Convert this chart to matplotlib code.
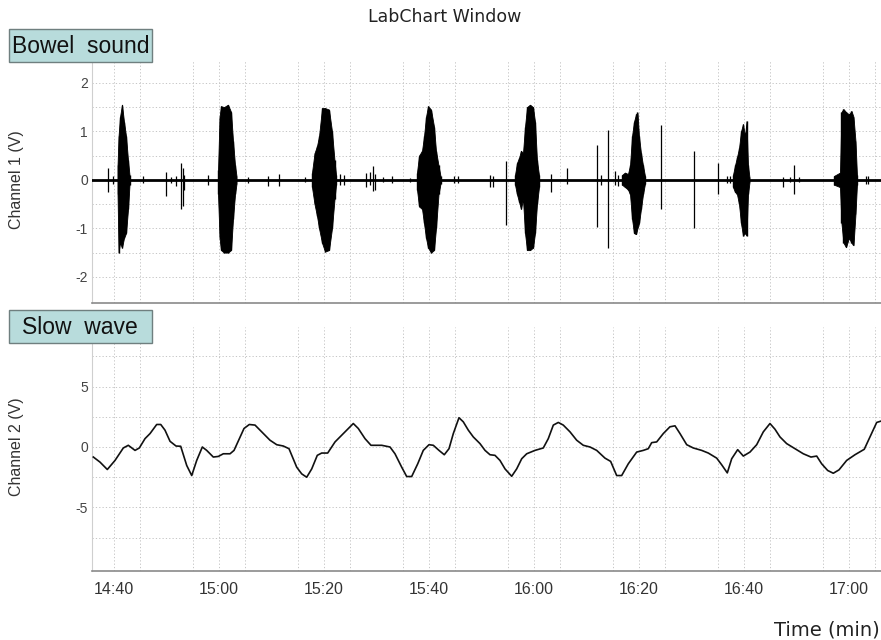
import numpy as np
import matplotlib
matplotlib.use("Agg")
import matplotlib.pyplot as plt
from matplotlib.patches import Rectangle

plt.rcParams['font.family'] = ['Liberation Sans', 'DejaVu Sans']
plt.rcParams['axes.unicode_minus'] = False

# time axis in minutes after 14:00
tick_minutes = [40, 60, 80, 100, 120, 140, 160, 180]
tick_labels = ['14:40', '15:00', '15:20', '15:40', '16:00', '16:20', '16:40', '17:00']
t_range = (35.8, 186.1)

# ---- channel 1: bowel sound bursts (envelopes, V) ----
burst_t = [
    [40.67, 40.86, 41.14, 41.52, 41.90, 42.29, 42.67, 42.95],
    [59.81, 60.10, 60.38, 60.95, 61.71, 62.29, 62.67, 63.05, 63.33],
    [77.71, 78.19, 78.67, 79.05, 79.62, 80.19, 80.95, 81.52, 82.00, 82.29],
    [97.71, 98.10, 98.67, 99.05, 99.43, 99.81, 100.38, 100.95, 101.33, 101.81, 102.19],
    [116.38, 116.76, 117.14, 117.52, 117.90, 118.29, 118.67, 119.24, 119.81, 120.19, 120.57, 120.95],
    [136.76, 137.33, 137.90, 138.29, 138.67, 139.05, 139.43, 139.71, 140.00, 140.38, 140.76, 141.14],
    [157.90, 158.29, 158.67, 159.05, 159.43, 159.81, 160.19, 160.48, 160.76, 161.05],
    [177.14, 178.29, 178.57, 178.95, 179.43, 180.00, 180.48, 180.86, 181.24, 181.52],
]
burst_hi = [
    [0.3, 0.9, 1.3, 1.55, 1.2, 0.9, 0.4, 0.1],
    [0.2, 1.3, 1.52, 1.5, 1.55, 1.4, 0.8, 0.3, 0.08],
    [0.15, 0.55, 0.7, 0.9, 1.48, 1.48, 1.45, 1.0, 0.4, 0.1],
    [0.15, 0.5, 0.6, 0.9, 1.3, 1.52, 1.45, 1.1, 0.6, 0.3, 0.08],
    [0.1, 0.35, 0.45, 0.6, 0.55, 1.1, 1.5, 1.55, 1.5, 1.2, 0.4, 0.1],
    [0.1, 0.15, 0.12, 0.3, 0.9, 1.2, 1.35, 1.39, 0.9, 0.55, 0.3, 0.08],
    [0.1, 0.3, 0.47, 0.65, 1.0, 1.15, 0.9, 1.21, 0.3, 0.05],
    [0.08, 0.15, 1.4, 1.46, 1.4, 1.35, 1.42, 1.3, 0.8, 0.1],
]
burst_lo = [
    [-0.3, -1.5, -1.3, -1.4, -1.2, -1.1, -0.6, -0.1],
    [-0.3, -1.2, -1.45, -1.5, -1.5, -1.45, -0.8, -0.3, -0.08],
    [-0.15, -0.5, -0.75, -1.0, -1.3, -1.48, -1.45, -1.0, -0.4, -0.1],
    [-0.2, -0.55, -0.6, -0.9, -1.2, -1.4, -1.5, -1.45, -1.0, -0.3, -0.08],
    [-0.1, -0.3, -0.45, -0.6, -0.4, -1.1, -1.45, -1.45, -1.4, -1.1, -0.5, -0.15],
    [-0.1, -0.15, -0.2, -0.3, -0.8, -1.1, -1.12, -1.0, -0.9, -0.6, -0.3, -0.08],
    [-0.15, -0.25, -0.3, -0.5, -0.9, -1.15, -1.1, -1.15, -0.3, -0.05],
    [-0.1, -0.15, -0.9, -1.3, -1.39, -1.2, -1.3, -1.35, -0.7, -0.1],
]

# isolated spikes on channel 1
spike_t = [38.91, 39.87, 45.58, 49.90, 50.86, 51.81, 52.80, 53.10, 53.30, 57.96,
           65.58, 69.39, 71.49, 76.38, 83.05, 83.81, 88.00, 88.76, 89.39, 89.71,
           91.18, 92.90, 96.38, 104.82, 105.58, 111.60, 112.20, 114.67, 123.24, 126.35,
           131.94, 132.76, 134.16, 135.43, 136.00, 144.19, 150.54, 155.11, 156.70, 157.30,
           167.49, 168.75, 169.58, 170.47, 183.20, 183.57]
spike_hi = [0.25, 0.08, 0.07, 0.16, 0.06, 0.08, 0.35, 0.25, 0.10, 0.10,
            0.06, 0.08, 0.12, 0.05, 0.12, 0.10, 0.14, 0.17, 0.28, 0.12,
            0.05, 0.07, 0.04, 0.07, 0.07, 0.10, 0.08, 0.39, 0.12, 0.24,
            0.72, 0.10, 1.02, 0.19, 0.10, 1.13, 0.60, 0.34, 0.07, 0.07,
            0.05, 0.05, 0.30, 0.05, 0.08, 0.08]
spike_lo = [-0.26, -0.08, -0.07, -0.33, -0.06, -0.12, -0.60, -0.55, -0.20, -0.10,
            -0.06, -0.12, -0.12, -0.05, -0.10, -0.10, -0.14, -0.10, -0.24, -0.20,
            -0.05, -0.07, -0.04, -0.07, -0.07, -0.15, -0.15, -0.93, -0.26, -0.08,
            -0.97, -0.10, -1.41, -0.10, -0.12, -0.60, -0.99, -0.30, -0.07, -0.07,
            -0.14, -0.05, -0.29, -0.05, -0.08, -0.08]

# ---- channel 2: slow wave (V) ----
slow_t = [36.06, 37.33, 38.72, 40.19, 41.77, 42.72, 44.00, 44.82, 45.90, 46.86,
          48.13, 48.90, 49.71, 50.67, 51.81, 52.70, 53.85, 54.80, 55.75, 56.82,
          57.65, 58.91, 59.87, 60.82, 62.10, 62.86, 63.87, 64.76, 65.77, 66.86,
          68.13, 69.71, 70.99, 72.25, 73.33, 74.80, 75.75, 76.70, 77.66, 78.72,
          79.56, 80.70, 82.10, 83.68, 85.58, 86.53, 87.81, 88.95, 90.99, 92.57,
          93.52, 94.80, 95.75, 96.70, 97.85, 98.91, 100.00, 100.82, 101.90, 102.91,
          103.81, 104.63, 105.71, 106.53, 107.49, 108.44, 109.71, 110.67, 111.62, 112.57,
          113.52, 114.48, 115.75, 116.70, 117.66, 118.61, 120.19, 121.77, 122.72, 123.68,
          124.63, 125.58, 126.86, 128.13, 129.39, 130.67, 131.94, 133.52, 134.60, 135.75,
          136.70, 137.96, 139.56, 140.82, 141.77, 142.42, 143.37, 144.63, 145.90, 146.86,
          147.81, 149.09, 150.34, 151.94, 153.20, 154.80, 155.75, 156.82, 157.66, 158.80,
          159.87, 161.14, 162.42, 163.68, 164.95, 165.90, 166.86, 168.13, 169.71, 171.30,
          172.76, 173.85, 174.80, 175.94, 177.01, 178.10, 179.56, 181.14, 182.91, 184.00,
          185.28, 186.10]
slow_v = [-0.83, -1.25, -1.86, -1.11, -0.08, 0.14, -0.28, -0.08, 0.69, 1.11,
          1.86, 1.86, 1.39, 0.47, 0.08, 0.06, -1.53, -2.36, -1.11, 0.00,
          -0.28, -0.83, -0.78, -0.56, -0.56, -0.28, 0.69, 1.53, 1.86, 1.81,
          1.25, 0.56, 0.19, 0.08, -0.14, -1.67, -2.22, -2.50, -1.81, -0.69,
          -0.50, -0.50, 0.42, 1.11, 1.94, 1.53, 0.69, 0.14, 0.14, 0.00,
          -0.56, -1.67, -2.44, -2.44, -1.39, -0.28, 0.19, 0.14, -0.28, -0.64,
          -0.14, 1.11, 2.42, 2.08, 1.39, 0.83, 0.28, -0.28, -0.64, -0.69,
          -1.11, -1.81, -2.42, -1.81, -0.97, -0.56, -0.28, -0.08, 0.69, 1.81,
          2.03, 1.81, 1.25, 0.56, 0.14, 0.00, -0.28, -0.92, -1.19, -2.36,
          -2.36, -1.39, -0.42, -0.28, -0.14, 0.36, 0.42, 1.11, 1.67, 1.75,
          1.11, 0.19, -0.08, -0.28, -0.50, -0.92, -1.47, -2.14, -0.97, -0.22,
          -0.75, -0.42, 0.19, 1.25, 1.94, 1.47, 0.83, 0.28, -0.14, -0.56,
          -0.83, -0.75, -1.39, -1.94, -2.17, -1.89, -1.11, -0.64, -0.19, 0.83,
          2.03, 2.14]

grid_kw = dict(color='#bdbdbd', linestyle=(0, (1.5, 2.5)), linewidth=0.6)


def style_axes(ax):
    for side in ['top', 'right']:
        ax.spines[side].set_visible(False)
    ax.spines['left'].set_color('#cfcfcf')
    ax.spines['bottom'].set_color('#8a8a8a')
    ax.spines['bottom'].set_linewidth(1.2)
    ax.set_xlim(*t_range)
    ax.set_xticks(tick_minutes)
    ax.set_xticks(np.arange(45, 186, 10), minor=True)
    ax.tick_params(which='both', length=0, colors='#333333')
    ax.tick_params(axis='y', labelsize=10, pad=3, labelcolor='#444444')
    ax.grid(True, which='both', **grid_kw)
    ax.set_axisbelow(True)


fig = plt.figure(figsize=(8.81, 6.40), dpi=100)

ax1 = fig.add_axes([0.1044, 0.5266, 0.8956, 0.378])
ax2 = fig.add_axes([0.1044, 0.1078, 0.8956, 0.3813])

# channel 1
style_axes(ax1)
ax1.set_ylim(-2.54, 2.45)
ax1.set_yticks([-2, -1, 0, 1, 2])
ax1.set_yticks([-1.5, -0.5, 0.5, 1.5], minor=True)
ax1.set_xticklabels([])
ax1.axhline(0, color='black', linewidth=2.0, zorder=3)
for bt, bh, bl in zip(burst_t, burst_hi, burst_lo):
    ax1.fill_between(bt, bl, bh, color='black', linewidth=0.6, zorder=4)
    ax1.vlines(bt, bl, bh, color='black', linewidth=1.0, zorder=4)
ax1.vlines(spike_t, spike_lo, spike_hi, color='black', linewidth=0.9, zorder=4)

# channel 2
style_axes(ax2)
ax2.set_ylim(-10.25, 9.92)
ax2.set_yticks([-5, 0, 5])
ax2.set_yticks([-7.5, -2.5, 2.5, 7.5], minor=True)
ax2.set_xticklabels(tick_labels, fontsize=11.5)
ax2.tick_params(axis='x', pad=8)
ax2.plot(slow_t, slow_v, color='#111111', linewidth=1.2, zorder=4)

# labels
fig.text(445 / 881, 1 - 17 / 640, 'LabChart Window', ha='center', va='center',
         fontsize=12.5, family='DejaVu Sans', color='#222222')
fig.text(17 / 881, 1 - 180 / 640, 'Channel 1 (V)', rotation=90, ha='center',
         va='center', fontsize=11.5, color='#333333')
fig.text(17 / 881, 1 - 447 / 640, 'Channel 2 (V)', rotation=90, ha='center',
         va='center', fontsize=11.5, color='#333333')
fig.text(880 / 881, 1 - 630 / 640, 'Time (min)', ha='right', va='center',
         fontsize=14, family='DejaVu Sans', color='#222222')

# panel name boxes
for label, top in [('Bowel  sound', 29), ('Slow  wave', 310)]:
    x0, w, h = 8.5, 143.5, 32.5
    fig.patches.append(Rectangle((x0 / 881, 1 - (top + h) / 640), w / 881, h / 640,
                                 transform=fig.transFigure, facecolor='#b8dcdc',
                                 edgecolor='#6f7f7f', linewidth=1.0))
    fig.text((x0 + w / 2) / 881, 1 - (top + h / 2 + 1) / 640, label, ha='center',
             va='center', fontsize=16.5, color='#111111')

fig.savefig('out.png', dpi=100)
